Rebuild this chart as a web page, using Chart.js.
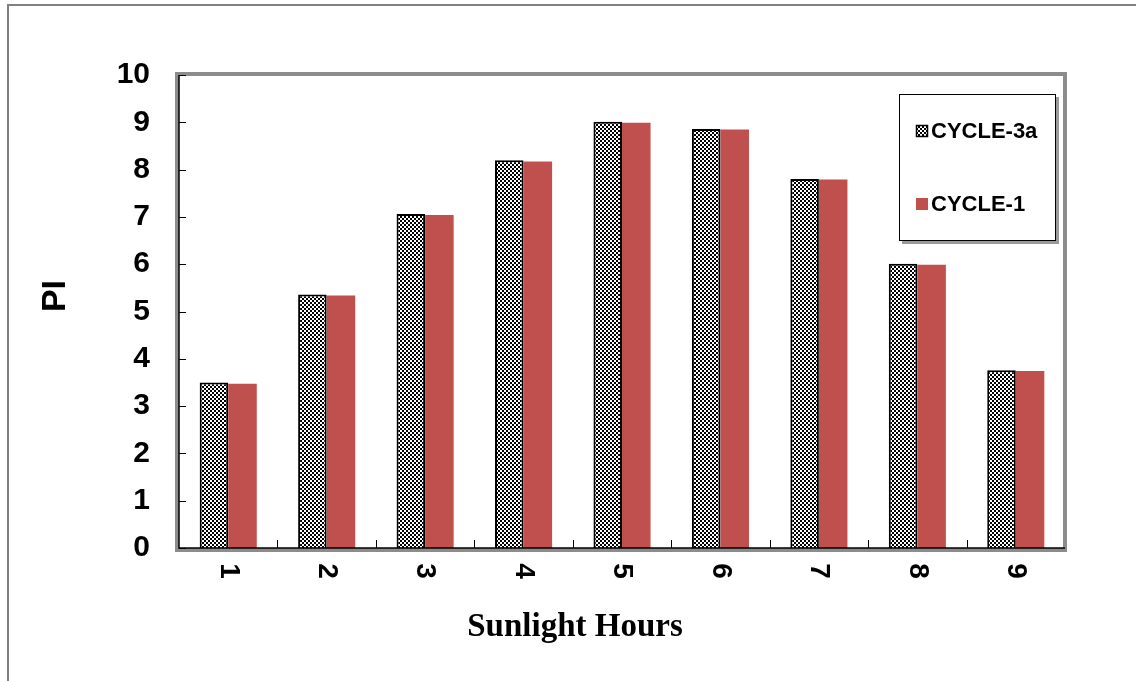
<!DOCTYPE html>
<html>
<head>
<meta charset="utf-8">
<script src="https://cdn.jsdelivr.net/npm/chart.js@4.4.0/dist/chart.umd.min.js"></script>
<style>
  html, body { margin: 0; padding: 0; background: #fff; }
  canvas { display: block; }
</style>
</head>
<body>
<canvas id="chart" width="1136" height="681"></canvas>
<script>
const hours = ['1', '2', '3', '4', '5', '6', '7', '8', '9'];
const cycle3a = [3.50, 5.36, 7.06, 8.20, 9.01, 8.86, 7.80, 6.01, 3.76];
const cycle1 = [3.47, 5.34, 7.04, 8.17, 8.99, 8.85, 7.79, 5.99, 3.74];
const yTicks = [0, 1, 2, 3, 4, 5, 6, 7, 8, 9, 10];

const sans = "'Liberation Sans', Arial, sans-serif";
const serif = "'Liberation Serif', 'Times New Roman', serif";

// black/white checker fill for CYCLE-3a
const pc = document.createElement('canvas');
pc.width = 4; pc.height = 4;
const p = pc.getContext('2d');
p.fillStyle = '#fff'; p.fillRect(0, 0, 4, 4);
p.fillStyle = '#000'; p.fillRect(0, 0, 2, 2); p.fillRect(2, 2, 2, 2);
const checker = p.createPattern(pc, 'repeat');

const decor = {
    id: 'decor',
    beforeDraw(chart) {
        const c = chart.ctx;
        c.save();
        c.fillStyle = '#fff';
        c.fillRect(0, 0, chart.width, chart.height);
        // outer frame
        c.strokeStyle = '#808080';
        c.lineWidth = 2;
        c.beginPath();
        c.moveTo(8, chart.height);
        c.lineTo(8, 5);
        c.lineTo(chart.width, 5);
        c.stroke();
        c.restore();
    },
    afterDatasetsDraw(chart) {
        const c = chart.ctx;
        const a = chart.chartArea;
        const ys = chart.scales.y;
        c.save();
        // plot frame
        c.strokeStyle = '#8c8c8c';
        c.lineWidth = 4;
        c.strokeRect(a.left - 2, a.top - 1, a.right - a.left + 2, a.bottom - a.top + 3);
        // axis lines
        c.strokeStyle = '#000';
        c.lineWidth = 1.5;
        c.beginPath();
        c.moveTo(a.left, a.top);
        c.lineTo(a.left, a.bottom);
        c.lineTo(a.right, a.bottom);
        c.stroke();
        // inward tick marks
        c.lineWidth = 1;
        c.beginPath();
        yTicks.forEach(v => {
            const y = Math.round(ys.getPixelForValue(v)) + 0.5;
            c.moveTo(a.left, y);
            c.lineTo(a.left + 7, y);
        });
        const step = (a.right - a.left) / hours.length;
        for (let i = 1; i < hours.length; i++) {
            const x = Math.round(a.left + step * i) + 0.5;
            c.moveTo(x, a.bottom);
            c.lineTo(x, a.bottom - 8);
        }
        c.stroke();
        c.restore();
    },
    afterDraw(chart) {
        const c = chart.ctx;
        const xs = chart.scales.x;
        c.save();
        c.fillStyle = '#000';
        // x tick labels, rotated clockwise
        c.font = 'bold 28px ' + sans;
        c.textAlign = 'center';
        c.textBaseline = 'middle';
        hours.forEach((h, i) => {
            c.save();
            c.translate(xs.getPixelForTick(i), 571);
            c.rotate(Math.PI / 2);
            c.fillText(h, 0, 0);
            c.restore();
        });
        // axis titles
        c.font = 'bold 33px ' + serif;
        c.fillText('Sunlight Hours', 575, 627);
        c.save();
        c.translate(56, 296);
        c.rotate(-Math.PI / 2);
        c.font = 'bold 34px ' + sans;
        c.fillText('PI', 0, 0);
        c.restore();
        // legend
        c.fillStyle = '#9a9a9a';
        c.fillRect(1056, 97, 3, 146);
        c.fillRect(902, 241, 157, 3);
        c.fillStyle = '#fff';
        c.fillRect(900, 95, 155, 145);
        c.strokeStyle = '#000';
        c.lineWidth = 1;
        c.strokeRect(899.5, 94.5, 156, 146);
        c.font = 'bold 22px ' + sans;
        c.textAlign = 'left';
        const ds = chart.data.datasets;
        [131, 204].forEach((y, i) => {
            c.fillStyle = ds[i].backgroundColor;
            c.fillRect(916, y - 6, 12, 12);
            if (i === 0) {
                c.strokeStyle = '#000';
                c.lineWidth = 1.5;
                c.strokeRect(916.5, y - 5.5, 11, 11);
            }
            c.fillStyle = '#000';
            c.fillText(ds[i].label, 931, y + 1);
        });
        c.restore();
    }
};

new Chart(document.getElementById('chart'), {
    type: 'bar',
    data: {
        labels: hours,
        datasets: [
            {
                label: 'CYCLE-3a',
                data: cycle3a,
                backgroundColor: checker,
                borderColor: '#000',
                borderWidth: 2,
                barPercentage: 1,
                categoryPercentage: 0.58
            },
            {
                label: 'CYCLE-1',
                data: cycle1,
                backgroundColor: '#c0504d',
                borderWidth: 0,
                barPercentage: 1,
                categoryPercentage: 0.58
            }
        ]
    },
    options: {
        responsive: false,
        animation: false,
        devicePixelRatio: 1,
        layout: { padding: { top: 75, right: 71, left: 0, bottom: 0 } },
        plugins: {
            legend: { display: false },
            tooltip: { enabled: false }
        },
        scales: {
            x: {
                grid: { display: false, drawTicks: false },
                border: { display: false },
                ticks: { display: false },
                afterFit(scale) { scale.height = 133; }
            },
            y: {
                min: 0,
                max: 10,
                grid: { display: false, drawTicks: false },
                border: { display: false },
                ticks: {
                    stepSize: 1,
                    padding: 29,
                    color: '#000',
                    font: { family: sans, size: 30, weight: 'bold' }
                },
                afterFit(scale) { scale.width = 179; }
            }
        }
    },
    plugins: [decor]
});
</script>
</body>
</html>
